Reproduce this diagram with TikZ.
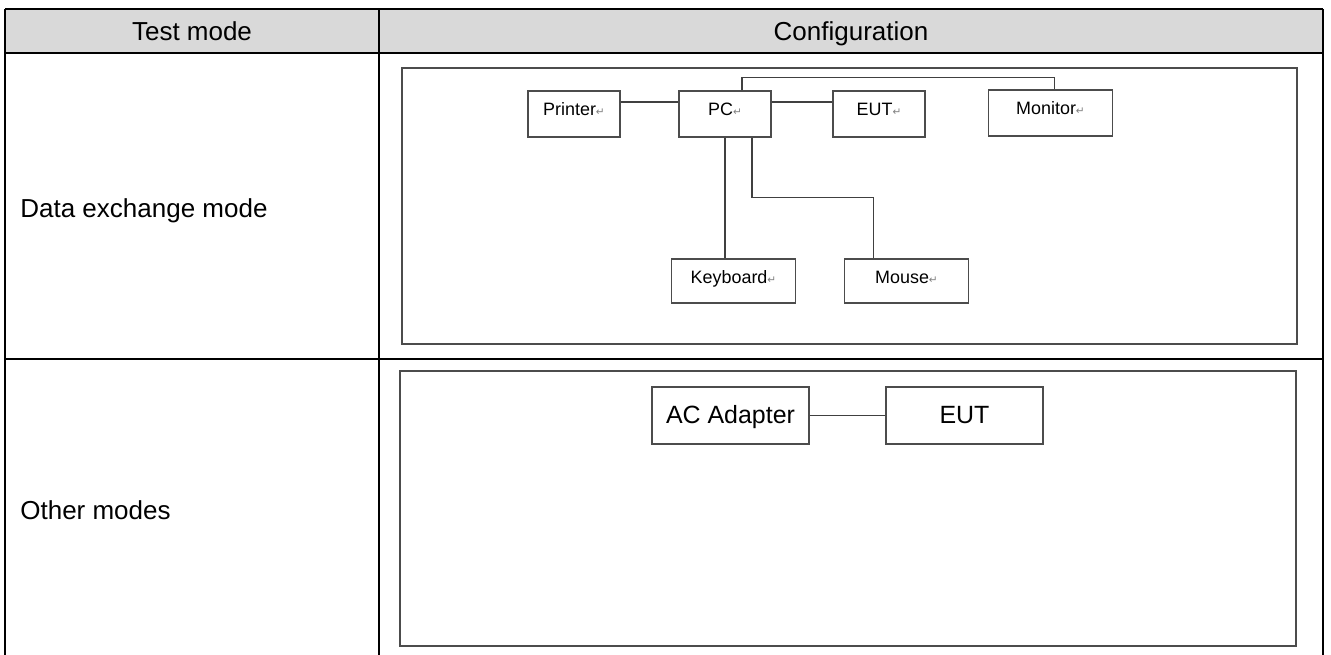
\documentclass[tikz,border=0pt]{standalone}
\usepackage{fontspec}
\setmainfont{Liberation Sans}
\newfontfamily\markfont{DejaVu Sans}
\usetikzlibrary{positioning,calc}
\definecolor{headgray}{HTML}{D9D9D9}
\newcommand{\pmark}{{\markfont\fontsize{6}{6}\selectfont\color{gray}↵}}

\begin{document}
\begin{tikzpicture}[x=0.02cm, y=-0.02cm,
    grid/.style={line width=1.3pt, black},
    frame/.style={draw=black!70, line width=0.7pt},
    device/.style={rectangle, draw=black!70, line width=0.7pt, inner sep=0pt,
        minimum width=1.84cm, minimum height=0.92cm,
        text height=0.2cm, text depth=0.12cm, font=\fontsize{10.2}{12}\selectfont},
    wide/.style={minimum width=2.48cm, minimum height=0.88cm},
    bigdevice/.style={rectangle, draw=black!70, line width=0.7pt, inner sep=0pt,
        minimum width=3.14cm, minimum height=1.14cm,
        text height=0.36cm, text depth=0.06cm, font=\fontsize{14.2}{16}\selectfont},
    link/.style={draw=black!75, line width=0.7pt},
    cell/.style={anchor=base, inner sep=0pt, font=\fontsize{14.8}{17}\selectfont}]
    \useasboundingbox (0,0) rectangle (1331,655);

    % table
    \fill[headgray] (5,9) rectangle (1323,53);
    \draw[grid] (5,9) -- (1323,9);
    \draw[grid] (5,53) -- (1323,53);
    \draw[grid] (5,359) -- (1323,359);
    \draw[grid] (5,9) -- (5,660);
    \draw[grid] (379,9) -- (379,660);
    \draw[grid] (1323,9) -- (1323,660);

    \node[cell] (modehead) at (192,41) {Test mode};
    \node[cell] (confhead) at (851,41) {Configuration};
    \node[cell, anchor=base west] (datarow) at (20,217) {Data exchange mode};
    \node[cell, anchor=base west] (otherrow) at (20,519) {Other modes};

    % data exchange mode
    \draw[frame] (402,68) rectangle (1297,344);
    \node[device] (printer) at (574,114) {Printer\pmark};
    \node[device] (pc) at (725,114) {PC\pmark};
    \node[device] (eut) at (879,114) {EUT\pmark};
    \node[device, wide, minimum height=0.92cm] (monitor) at (1050.5,113) {Monitor\pmark};
    \node[device, wide] (keyboard) at (733.5,281) {Keyboard\pmark};
    \node[device, wide] (mouse) at (906.5,281) {Mouse\pmark};

    \draw[link] ($(printer.east)+(0,-12)$) -- ($(pc.west)+(0,-12)$);
    \draw[link] ($(pc.east)+(0,-12)$) -- ($(eut.west)+(0,-12)$);
    \draw[link] ($(pc.north)+(17,0)$) |- ($(monitor.north)+(4,-12)$) -- ($(monitor.north)+(4,0)$);
    \draw[link] (pc.south) -- (pc.south |- keyboard.north);
    \draw[link] ($(pc.south)+(27,0)$) |- ($(mouse.north)+(-33,-61)$) -- ($(mouse.north)+(-33,0)$);

    % other modes
    \draw[frame] (400,371) rectangle (1296,646);
    \node[bigdevice] (adapter) at (730.5,415.5) {AC Adapter};
    \node[bigdevice] (eutb) at (964.5,415.5) {EUT};
    \draw[link] (adapter) -- (eutb);
\end{tikzpicture}
\end{document}
